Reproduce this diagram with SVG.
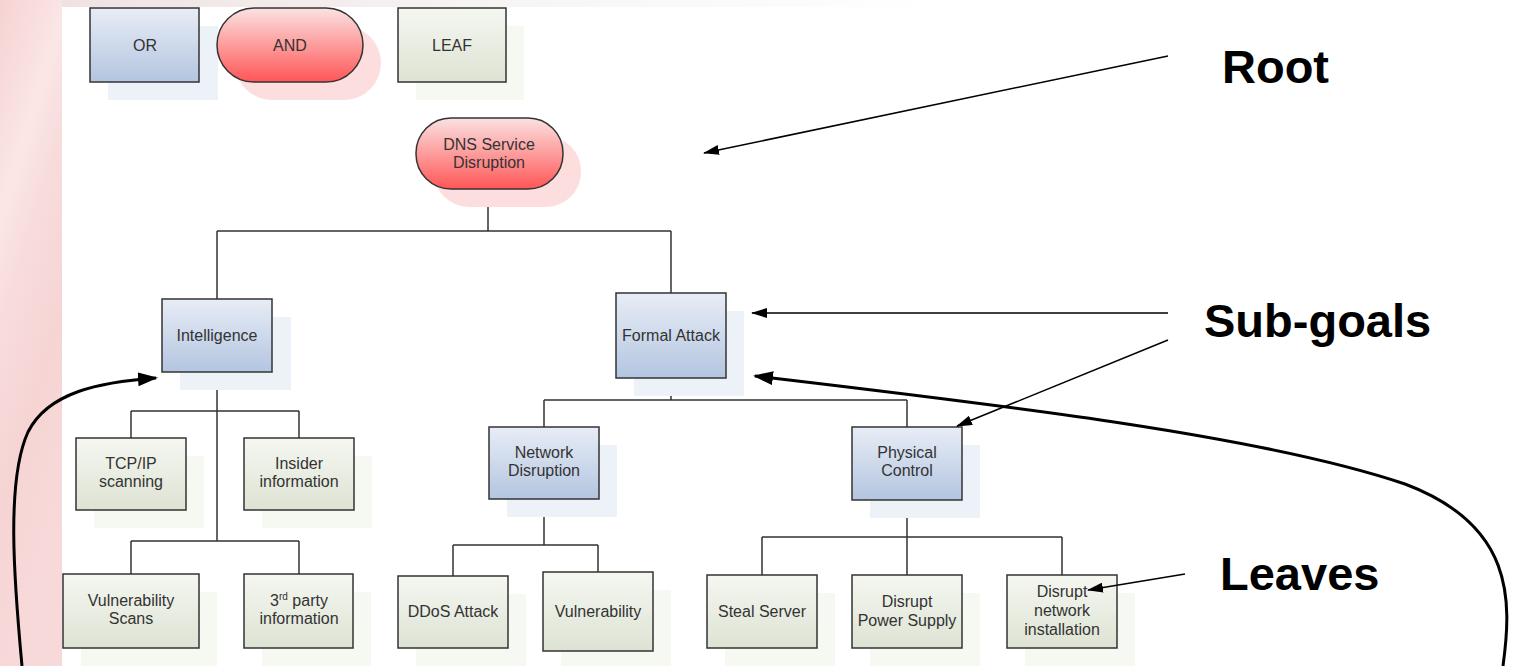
<svg xmlns="http://www.w3.org/2000/svg" width="1517" height="666" viewBox="0 0 1517 666">
<defs>
<linearGradient id="gBlue" x1="0" y1="0" x2="0" y2="1"><stop offset="0" stop-color="#e8edf6"/><stop offset="1" stop-color="#b3c5e0"/></linearGradient>
<linearGradient id="gRed" x1="0" y1="0" x2="0" y2="1"><stop offset="0" stop-color="#fbe2e2"/><stop offset="1" stop-color="#ff5656"/></linearGradient>
<linearGradient id="gLeaf" x1="0" y1="0" x2="0" y2="1"><stop offset="0" stop-color="#f5f7f1"/><stop offset="1" stop-color="#dde3d3"/></linearGradient>
<linearGradient id="gBgL" x1="0" y1="0" x2="0.3" y2="1"><stop offset="0" stop-color="#f6d2d2"/><stop offset="0.3" stop-color="#fbe6e6"/><stop offset="0.45" stop-color="#f8dcdc"/><stop offset="0.7" stop-color="#f6d4d4"/><stop offset="1" stop-color="#f8d9d9"/></linearGradient>
<linearGradient id="gBgT" x1="0" y1="0" x2="1" y2="0"><stop offset="0" stop-color="#f0e2e2"/><stop offset="0.3" stop-color="#f7f4f4"/><stop offset="0.6" stop-color="#ffffff"/></linearGradient>
<marker id="ah" markerWidth="16" markerHeight="10" refX="15" refY="5" orient="auto" markerUnits="userSpaceOnUse"><path d="M0,0 L16,5 L0,10 z" fill="#000"/></marker>
<marker id="ahB" markerWidth="20" markerHeight="14" refX="18" refY="7" orient="auto" markerUnits="userSpaceOnUse"><path d="M0,0 L20,7 L0,14 z" fill="#000"/></marker>
<style>
.or{fill:url(#gBlue);stroke:#333;stroke-width:1.5}
.and{fill:url(#gRed);stroke:#333;stroke-width:1.5}
.leaf{fill:url(#gLeaf);stroke:#333;stroke-width:1.5}
.sb{fill:#edf1f8}
.sr{fill:#fcdede}
.sl{fill:#f6f8f2}
.t{font-family:"Liberation Sans",Arial,sans-serif;font-size:16px;fill:#333;text-anchor:middle}
.big{font-family:"Liberation Sans",Arial,sans-serif;font-size:47px;font-weight:bold;fill:#000}
.c{fill:none;stroke:#333;stroke-width:1.5}
.a{fill:none;stroke:#000;stroke-width:1.5}
.ab{fill:none;stroke:#000;stroke-width:3}
</style>
</defs>
<rect width="1517" height="666" fill="#fff"/>
<rect x="62" y="0" width="1455" height="7" fill="url(#gBgT)"/>
<rect x="0" y="0" width="62" height="666" fill="url(#gBgL)"/>

<g id="legend-or"><rect class="sb" x="108" y="26" width="110" height="74"/><rect class="or" x="90" y="8" width="109" height="74"/><text class="t" x="145" y="51">OR</text></g>
<g id="legend-and"><rect class="sr" x="235" y="26" width="146" height="74" rx="37"/><rect class="and" x="217" y="8" width="146" height="74" rx="37"/><text class="t" x="290" y="51">AND</text></g>
<g id="legend-leaf"><rect class="sl" x="416" y="26" width="108" height="74"/><rect class="leaf" x="398" y="8" width="108" height="74"/><text class="t" x="452" y="51">LEAF</text></g>

<g id="connectors">
<path class="c" d="M488,189 V231 M217,231 H671 M217,231 V299 M671,231 V293"/>
<path class="c" d="M217,372 V541 M131,411 H299 M131,411 V438 M299,411 V438 M131,541 H299 M131,541 V574 M299,541 V574"/>
<path class="c" d="M671,378 V400 M544,400 H907 M544,400 V427 M907,400 V427"/>
<path class="c" d="M544,499 V545 M453,545 H598 M453,545 V576 M598,545 V572"/>
<path class="c" d="M907,500 V537 M762,537 H1062 M762,537 V575 M907,537 V575 M1062,537 V575"/>
</g>

<g id="root"><rect class="sr" x="434" y="136" width="147" height="71" rx="35"/><rect class="and" x="416" y="118" width="147" height="71" rx="35"/><text class="t" x="489" y="150">DNS Service</text><text class="t" x="489" y="168">Disruption</text></g>
<g id="intelligence"><rect class="sb" x="180" y="317" width="111" height="73"/><rect class="or" x="162" y="299" width="110" height="73"/><text class="t" x="217" y="341">Intelligence</text></g>
<g id="formal-attack"><rect class="sb" x="634" y="311" width="110" height="85"/><rect class="or" x="616" y="293" width="110" height="85"/><text class="t" x="671" y="341">Formal Attack</text></g>
<g id="tcpip"><rect class="sl" x="94" y="456" width="110" height="72"/><rect class="leaf" x="76" y="438" width="110" height="72"/><text class="t" x="131" y="469">TCP/IP</text><text class="t" x="131" y="487">scanning</text></g>
<g id="insider"><rect class="sl" x="262" y="456" width="110" height="72"/><rect class="leaf" x="244" y="438" width="110" height="72"/><text class="t" x="299" y="469">Insider</text><text class="t" x="299" y="487">information</text></g>
<g id="vuln-scans"><rect class="sl" x="81" y="592" width="136" height="74"/><rect class="leaf" x="63" y="574" width="136" height="74"/><text class="t" x="131" y="606">Vulnerability</text><text class="t" x="131" y="624">Scans</text></g>
<g id="third-party"><rect class="sl" x="262" y="592" width="109" height="74"/><rect class="leaf" x="244" y="574" width="109" height="74"/><text class="t" x="299" y="606">3<tspan font-size="10" dy="-6">rd</tspan><tspan dy="6"> party</tspan></text><text class="t" x="299" y="624">information</text></g>
<g id="network-disruption"><rect class="sb" x="507" y="445" width="110" height="72"/><rect class="or" x="489" y="427" width="110" height="72"/><text class="t" x="544" y="458">Network</text><text class="t" x="544" y="476">Disruption</text></g>
<g id="physical-control"><rect class="sb" x="870" y="445" width="110" height="73"/><rect class="or" x="852" y="427" width="110" height="73"/><text class="t" x="907" y="458">Physical</text><text class="t" x="907" y="476">Control</text></g>
<g id="ddos"><rect class="sl" x="416" y="594" width="110" height="72"/><rect class="leaf" x="398" y="576" width="110" height="72"/><text class="t" x="453" y="617">DDoS Attack</text></g>
<g id="vulnerability"><rect class="sl" x="561" y="590" width="110" height="79"/><rect class="leaf" x="543" y="572" width="110" height="79"/><text class="t" x="598" y="617">Vulnerability</text></g>
<g id="steal-server"><rect class="sl" x="725" y="593" width="110" height="73"/><rect class="leaf" x="707" y="575" width="110" height="73"/><text class="t" x="762" y="617">Steal Server</text></g>
<g id="power-supply"><rect class="sl" x="870" y="593" width="110" height="73"/><rect class="leaf" x="852" y="575" width="110" height="73"/><text class="t" x="907" y="607">Disrupt</text><text class="t" x="907" y="626">Power Supply</text></g>
<g id="network-installation"><rect class="sl" x="1025" y="593" width="110" height="73"/><rect class="leaf" x="1007" y="575" width="110" height="73"/><text class="t" x="1062" y="597">Disrupt</text><text class="t" x="1062" y="616">network</text><text class="t" x="1062" y="635">installation</text></g>

<g id="annotations">
<text class="big" x="1222" y="83">Root</text>
<text class="big" x="1204" y="337">Sub-goals</text>
<text class="big" x="1220" y="590">Leaves</text>
<path class="a" d="M1168,56 L704,153" marker-end="url(#ah)"/>
<path class="a" d="M1168,313 L752,313" marker-end="url(#ah)"/>
<path class="a" d="M1168,340 L957,426" marker-end="url(#ah)"/>
<path class="a" d="M1185,574 L1088,590" marker-end="url(#ah)"/>
<path class="ab" d="M1503,666 C1512,600 1514,525 1405,484 C1260,435 1000,405 755,376" marker-end="url(#ahB)"/>
<path class="ab" d="M22,666 C14,580 6,480 28,432 C48,392 100,382 156,378" marker-end="url(#ahB)"/>
</g>
</svg>
